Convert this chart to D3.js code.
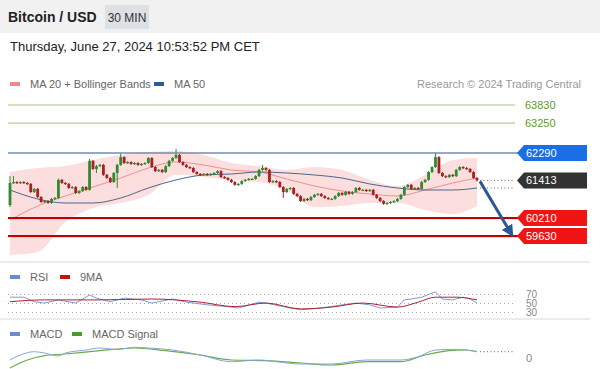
<!DOCTYPE html>
<html>
<head>
<meta charset="utf-8">
<script src="https://cdn.jsdelivr.net/npm/d3@7"></script>
<style>
  body { margin: 0; background: #fff; }
  svg { display: block; font-family: "Liberation Sans", Arial, sans-serif; }
</style>
</head>
<body>
<svg width="600" height="369"></svg>
<script>
// 30 min candles, oldest first
var opens = [60620,61330,61360,61330,61360,61330,61300,61040,61140,60880,
  60720,60750,60690,60820,60850,61430,61330,61300,61170,61200,
  61010,61070,61200,61110,62040,61780,61870,61910,61590,61490,
  61360,61650,61910,62160,61970,62000,61940,61970,61910,61940,
  61970,62130,61840,61710,61750,61680,61870,62040,62130,62230,
  62000,61910,61840,61810,61680,61620,61590,61620,61590,61620,
  61650,61710,61520,61490,61430,61360,61270,61300,61390,61430,
  61460,61460,61550,61750,61810,61750,61360,61390,61360,61200,
  61040,61140,61170,60980,60910,60750,60820,60780,60880,60950,
  60980,60910,60850,60820,60820,60910,61010,60950,61040,60980,
  61040,61170,61110,61110,61070,61110,60950,60850,60750,60660,
  60690,60720,60750,60820,60950,61200,61270,61140,61170,61140,
  61360,61430,61680,61840,62160,61650,61550,61520,61590,61550,
  61750,61840,61810,61780,61680,61490];
var closes = [61330,61360,61330,61360,61330,61300,61040,61140,60880,60720,
  60750,60690,60820,60850,61430,61330,61300,61170,61200,61010,
  61070,61200,61110,62040,61780,61870,61910,61590,61490,61360,
  61650,61910,62160,61970,62000,61940,61970,61910,61940,61970,
  62130,61840,61710,61750,61680,61870,62040,62130,62230,62000,
  61910,61840,61810,61680,61620,61590,61620,61590,61620,61650,
  61710,61520,61490,61430,61360,61270,61300,61390,61430,61460,
  61460,61550,61750,61810,61750,61360,61390,61360,61200,61040,
  61140,61170,60980,60910,60750,60820,60780,60880,60950,60980,
  60910,60850,60820,60820,60910,61010,60950,61040,60980,61040,
  61170,61110,61110,61070,61110,60950,60850,60750,60660,60690,
  60720,60750,60820,60950,61200,61270,61140,61170,61140,61360,
  61430,61680,61840,62160,61650,61550,61520,61590,61550,61750,
  61840,61810,61780,61680,61490,61413];
var highs = [61550,61550,61390,61390,61390,61360,61330,61170,61170,60910,
  60780,60780,60850,60880,61470,61460,61360,61330,61230,61230,
  61100,61230,61230,62100,62070,61910,61940,61940,61620,61520,
  61680,61940,62290,62190,62030,62030,62000,62000,61970,62000,
  62160,62160,61870,61780,61780,61900,62070,62160,62420,62260,
  62030,61940,61870,61840,61710,61650,61650,61650,61650,61680,
  61740,61740,61550,61520,61460,61390,61330,61420,61460,61490,
  61490,61580,61780,61910,61840,61780,61420,61420,61390,61230,
  61170,61200,61200,61010,60940,60850,60850,60910,60980,61010,
  61010,60940,60880,60850,60940,61040,61040,61070,61070,61070,
  61200,61200,61140,61140,61140,61140,60980,60880,60780,60720,
  60750,60780,60850,60980,61230,61300,61300,61200,61200,61390,
  61460,61710,61870,62290,62190,61680,61580,61620,61620,61780,
  61870,61870,61840,61810,61710,61520];
var lows = [60560,61300,61300,61300,61300,61270,61010,61010,60850,60690,
  60690,60660,60660,60790,60820,61300,61270,61140,61140,60980,
  60980,61040,61080,61080,61750,61650,61840,61560,61460,61330,
  61330,61170,61880,61940,61940,61910,61910,61880,61880,61910,
  61940,61810,61680,61680,61650,61650,61840,62010,62100,61970,
  61880,61810,61780,61650,61590,61560,61560,61560,61560,61590,
  61620,61490,61460,61400,61330,61240,61240,61270,61360,61400,
  61430,61430,61520,61720,61720,61330,61330,61330,61170,60850,
  61010,61110,60950,60880,60720,60720,60750,60750,60850,60920,
  60880,60820,60790,60790,60790,60880,60920,60920,60950,60950,
  61010,61080,61080,61040,61040,60920,60820,60720,60630,60630,
  60660,60690,60720,60790,60920,61170,61110,61110,61110,61110,
  61330,61400,61650,61810,61620,61520,61490,61490,61520,61520,
  61720,61780,61750,61650,61460,61380];

// indicators read at every 8th candle
var maIdx = [0,8,16,24,32,40,48,56,64,72,80,88,96,104,112,120,128,135];
var ma50 = [61105,60817,60688,60688,60849,61169,61426,61586,61618,61682,61650,61586,61490,61298,61169,61105,61105,61169];
var ma20 = [60143,60592,60913,61201,61490,61810,62003,61906,61746,61682,61458,61233,61073,60977,60913,61105,61330,61490];
var bbUpper = [61682,61810,61874,62067,62227,62323,62355,62227,61971,61874,61746,61842,61746,61426,61233,61586,62067,62131];
var bbLower = [59021,59117,60079,60528,60688,60945,61590,61520,61426,61362,61105,60560,60592,60688,60688,60464,60335,60592];

var levels = [63830, 63250, 62290, 60210, 59630];
var lastPrice = 61413;

var rsiIdx = [0,4,7,10,14,16,19,23,25,29,33,38,41,47,51,57,63,66,72,74,79,84,90,96,100,104,107,112,114,116,119,122,123,125,128,131,133,135];
var rsi = [64,64,54,51,58,55,51,69,62,54,62,58,51,60,53,47,43,40,53,51,43,36,40,47,51,47,40,42,58,60,64,73,76,60,58,64,60,51];
var rsiMaIdx = [0,10,26,41,55,65,74,84,93,102,112,118,123,129,135];
var rsiMa = [54,58,58,60,53,43,51,38,42,51,42,53,64,64,58];
var rsiTicks = [70, 50, 30];

var macdIdx = [0,3,7,10,14,16,22,26,31,36,40,47,55,64,72,77,84,93,103,113,118,123,129,135];
var macd = [-25,25,58,45,15,45,75,95,80,102,95,75,25,-42,-25,-42,-65,-65,-25,-25,8,75,82,58];
var sigIdx = [0,5,10,16,26,36,45,55,64,74,84,93,103,113,120,127,132,135];
var signal = [-105,-25,18,35,68,95,68,25,-25,-32,-55,-75,-42,-42,25,68,75,58];

(function () {
    var svg = d3.select("svg");
    var W = 600;
    var up = "#2e8b2e", down = "#a82020";

    var x = d3.scaleLinear().domain([0, closes.length - 1]).range([10, 477]);
    var y = d3.scaleLinear().domain([59630, 63830]).range([236, 105]);
    var yR = d3.scaleLinear().domain([30, 70]).range([312.5, 294.5]);
    var yM = d3.scaleLinear().domain([0, 100]).range([357.5, 347.5]);

    // header
    svg.append("rect").attr("width", W).attr("height", 33).attr("fill", "#f1f1f1");
    svg.append("text").attr("x", 8).attr("y", 22).attr("font-size", 14).attr("font-weight", "bold")
        .attr("fill", "#222").text("Bitcoin / USD");
    svg.append("rect").attr("x", 105).attr("y", 5).attr("width", 44).attr("height", 24).attr("fill", "#dde0e4");
    svg.append("text").attr("x", 127).attr("y", 21.5).attr("text-anchor", "middle").attr("font-size", 12)
        .attr("fill", "#333").text("30 MIN");
    svg.append("text").attr("x", 10).attr("y", 51).attr("font-size", 13).attr("fill", "#222")
        .text("Thursday, June 27, 2024 10:53:52 PM CET");

    function legend(items, ly) {
        items.forEach(function (it) {
            svg.append("rect").attr("x", it[0]).attr("y", ly - 2).attr("width", 10).attr("height", 4).attr("fill", it[1]);
            svg.append("text").attr("x", it[0] + 20).attr("y", ly + 4).attr("font-size", 11).attr("fill", "#666").text(it[2]);
        });
    }
    legend([[10, "#ee8a8a", "MA 20 + Bollinger Bands"], [154, "#2c5a96", "MA 50"]], 84);
    svg.append("text").attr("x", 581).attr("y", 88).attr("text-anchor", "end").attr("font-size", 11)
        .attr("fill", "#999").text("Research \u00a9 2024 Trading Central");

    // separators
    [262, 319].forEach(function (sy) {
        svg.append("line").attr("x1", 0).attr("x2", 590).attr("y1", sy).attr("y2", sy)
            .attr("stroke", "#e6e6e6").attr("stroke-width", 1.5);
    });

    svg.append("clipPath").attr("id", "pclip").append("rect").attr("x", 0).attr("y", 95).attr("width", 516).attr("height", 165);
    var g = svg.append("g").attr("clip-path", "url(#pclip)");

    // bollinger band
    g.append("path").datum(maIdx)
        .attr("fill", "#fcdede")
        .attr("d", d3.area().curve(d3.curveMonotoneX)
            .x(function (d) { return x(d); })
            .y0(function (d, i) { return y(bbLower[i]); })
            .y1(function (d, i) { return y(bbUpper[i]); }));

    // levels
    var lvl = svg.append("g");
    [0, 1].forEach(function (k) {
        lvl.append("line").attr("x1", 8).attr("x2", 515).attr("y1", y(levels[k])).attr("y2", y(levels[k]))
            .attr("stroke", "#a9c483").attr("stroke-width", 1);
        lvl.append("text").attr("x", 525).attr("y", y(levels[k]) + 4).attr("font-size", 11)
            .attr("fill", "#5f9a2c").text(levels[k]);
    });
    lvl.append("line").attr("x1", 8).attr("x2", 518).attr("y1", y(levels[2])).attr("y2", y(levels[2]))
        .attr("stroke", "#6f8db5").attr("stroke-width", 1.5);
    [3, 4].forEach(function (k) {
        lvl.append("line").attr("x1", 8).attr("x2", 518).attr("y1", y(levels[k]) + 1).attr("y2", y(levels[k]) + 1)
            .attr("stroke", "#f3b0b0").attr("stroke-width", 1);
        lvl.append("line").attr("x1", 8).attr("x2", 518).attr("y1", y(levels[k])).attr("y2", y(levels[k]))
            .attr("stroke", "#c00000").attr("stroke-width", 2);
    });

    // moving averages
    var maLine = function (arr) {
        return d3.line().curve(d3.curveMonotoneX)
            .x(function (d) { return x(d); })
            .y(function (d, i) { return y(arr[i]); });
    };
    g.append("path").datum(maIdx).attr("fill", "none").attr("stroke", "#ec9090").attr("stroke-width", 1).attr("d", maLine(ma20));
    g.append("path").datum(maIdx).attr("fill", "none").attr("stroke", "#4a6690").attr("stroke-width", 1).attr("d", maLine(ma50));

    // candles
    var c = g.selectAll(".candle").data(closes).enter().append("g").attr("class", "candle");
    c.append("line")
        .attr("x1", function (d, i) { return x(i); }).attr("x2", function (d, i) { return x(i); })
        .attr("y1", function (d, i) { return y(highs[i]); }).attr("y2", function (d, i) { return y(lows[i]); })
        .attr("stroke", function (d, i) { return d >= opens[i] ? up : down; }).attr("stroke-width", 1);
    c.append("rect")
        .attr("x", function (d, i) { return x(i) - 1.4; })
        .attr("width", 2.8)
        .attr("y", function (d, i) { return y(Math.max(d, opens[i])); })
        .attr("height", function (d, i) { return Math.max(1.2, Math.abs(y(d) - y(opens[i]))); })
        .attr("fill", function (d, i) { return d >= opens[i] ? up : down; });

    // dotted markers to the tags
    var xEnd = x(closes.length - 1);
    [[lastPrice, y], [ma50[ma50.length - 1], y], [macd[macd.length - 1], yM]].forEach(function (m) {
        svg.append("line").attr("x1", xEnd + 3).attr("x2", 515).attr("y1", m[1](m[0])).attr("y2", m[1](m[0]))
            .attr("stroke", "#666").attr("stroke-width", 1).attr("stroke-dasharray", "1,2.5");
    });

    // projection arrow
    var defs = svg.append("defs");
    defs.append("marker").attr("id", "ah").attr("viewBox", "0 0 10 10").attr("refX", 8).attr("refY", 5)
        .attr("markerWidth", 4).attr("markerHeight", 4).attr("orient", "auto")
        .append("path").attr("d", "M0,0L10,5L0,10Z").attr("fill", "#2b5797");
    svg.append("line").attr("x1", xEnd + 3).attr("y1", y(lastPrice) + 1).attr("x2", 512).attr("y2", y(levels[4]) - 1)
        .attr("stroke", "#2b5797").attr("stroke-width", 3).attr("marker-end", "url(#ah)");

    // tags
    function tag(v, fill) {
        var cy = y(v);
        svg.append("path").attr("d", "M517," + cy + "L524," + (cy - 8) + "L587," + (cy - 8) + "L587," + (cy + 8) + "L524," + (cy + 8) + "Z")
            .attr("fill", fill);
        svg.append("text").attr("x", 526).attr("y", cy + 4).attr("font-size", 11).attr("fill", "#fff").text(v);
    }
    tag(levels[2], "#1a6fe6");
    tag(lastPrice, "#333333");
    tag(levels[3], "#f01414");
    tag(levels[4], "#f01414");

    // RSI panel
    legend([[10, "#6a8ccc", "RSI"], [60, "#cc1111", "9MA"]], 277);
    rsiTicks.forEach(function (t) {
        svg.append("line").attr("x1", 8).attr("x2", 515).attr("y1", yR(t)).attr("y2", yR(t))
            .attr("stroke", "#aaa").attr("stroke-width", 1).attr("stroke-dasharray", "1,3");
        svg.append("text").attr("x", 526).attr("y", yR(t) + 3.5).attr("font-size", 10).attr("fill", "#888").text(t);
    });
    svg.append("path").datum(rsiIdx).attr("fill", "none").attr("stroke", "#7d9bd6").attr("stroke-width", 1)
        .attr("d", d3.line().x(function (d) { return x(d); }).y(function (d, i) { return yR(rsi[i]); }));
    svg.append("path").datum(rsiMaIdx).attr("fill", "none").attr("stroke", "#b02030").attr("stroke-width", 1)
        .attr("d", d3.line().curve(d3.curveMonotoneX).x(function (d) { return x(d); }).y(function (d, i) { return yR(rsiMa[i]); }));

    // MACD panel
    legend([[10, "#6a8ccc", "MACD"], [72, "#4a9a2a", "MACD Signal"]], 334);
    svg.append("text").attr("x", 526).attr("y", yM(0) + 4).attr("font-size", 11).attr("fill", "#888").text("0");
    svg.append("path").datum(sigIdx).attr("fill", "none").attr("stroke", "#6aaa4a").attr("stroke-width", 1.2)
        .attr("d", d3.line().curve(d3.curveMonotoneX).x(function (d) { return x(d); }).y(function (d, i) { return yM(signal[i]); }));
    svg.append("path").datum(macdIdx).attr("fill", "none").attr("stroke", "#8aa4d8").attr("stroke-width", 1)
        .attr("d", d3.line().curve(d3.curveMonotoneX).x(function (d) { return x(d); }).y(function (d, i) { return yM(macd[i]); }));
}());
</script>
</body>
</html>
